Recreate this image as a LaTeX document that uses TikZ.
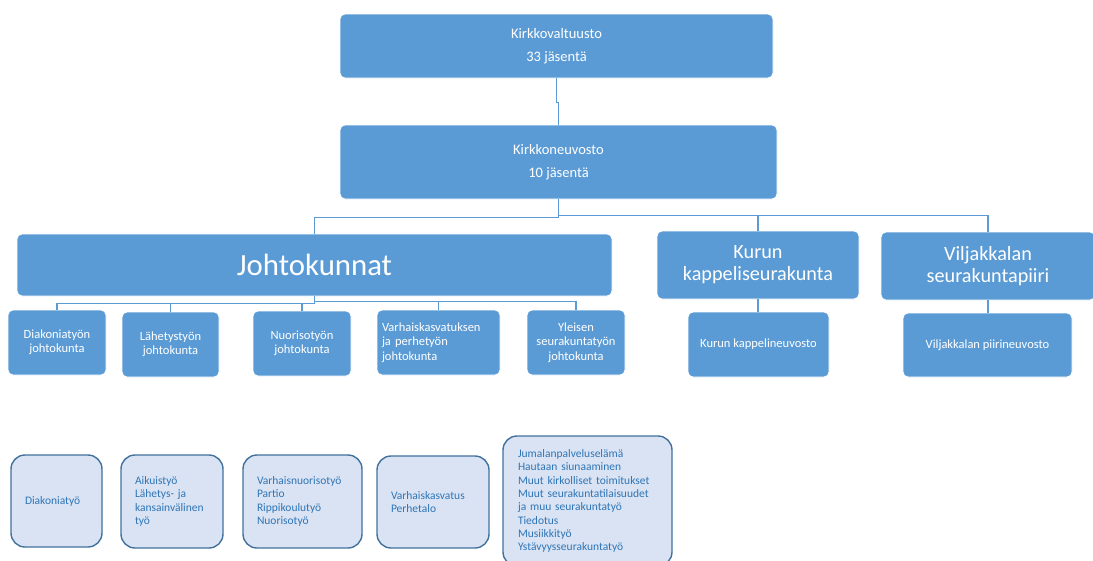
\documentclass[tikz,border=0pt]{standalone}
\usepackage{fontspec}
\setmainfont{Carlito}
\definecolor{mblue}{HTML}{5B9BD5}
\definecolor{lfill}{HTML}{DAE3F3}
\definecolor{lborder}{HTML}{41719C}
\definecolor{ltext}{HTML}{2E75B6}
\definecolor{connc}{HTML}{5B9BD5}
\begin{document}
\begin{tikzpicture}[x=1pt,y=-1pt,
  bluebox/.style={fill=mblue, draw=white, line width=0.8pt, rounded corners=5pt, text=white, inner sep=0pt, align=center},
  smallblue/.style={bluebox, font=\fontsize{12.5}{14.3}\selectfont},
  lightbox/.style={fill=lfill, draw=lborder, line width=1.4pt, rounded corners=14pt, text=ltext, inner xsep=14pt, inner ysep=0pt, align=left, font=\fontsize{11.5}{13.3}\selectfont},
  connector/.style={draw=connc, line width=1.5pt}]
\useasboundingbox (0,0) rectangle (1093,560);

% top level
\node[bluebox, minimum width=433, minimum height=64, font=\fontsize{14.5}{23}\selectfont] (K1) at (556.5,46) {Kirkkovaltuusto\\33 jäsentä};
\node[bluebox, minimum width=437, minimum height=74, font=\fontsize{14.5}{23}\selectfont] (K2) at (558.5,162) {Kirkkoneuvosto\\10 jäsentä};

% second level
\node[bluebox, minimum width=595, minimum height=62, font=\fontsize{30.8}{34}\selectfont] (J) at (314.5,265) {Johtokunnat};
\node[bluebox, minimum width=202, minimum height=68, font=\fontsize{20.2}{22}\selectfont] (KU) at (758,265) {Kurun\\kappeliseurakunta};
\node[bluebox, minimum width=214, minimum height=68, font=\fontsize{20.2}{22}\selectfont] (VI) at (988,266) {Viljakkalan\\seurakuntapiiri};

% councils
\node[smallblue, minimum width=141, minimum height=65] (KN) at (758.5,344.5) {Kurun kappelineuvosto};
\node[smallblue, minimum width=169, minimum height=64] (VN) at (987.5,345) {Viljakkalan piirineuvosto};

% boards
\node[smallblue, minimum width=98, minimum height=65] (c1) at (57,342.5) {Diakoniatyön\\johtokunta};
\node[smallblue, minimum width=97, minimum height=65] (c2) at (170.5,344.5) {Lähetystyön\\johtokunta};
\node[smallblue, minimum width=98, minimum height=65] (c3) at (302,343.5) {Nuorisotyön\\johtokunta};
\node[smallblue, minimum width=123, minimum height=65, align=left, text width=113, inner xsep=5] (c4) at (438.5,342.5) {Varhaiskasvatuksen\\ja perhetyön\\johtokunta};
\node[smallblue, minimum width=98, minimum height=65] (c5) at (576,342.5) {Yleisen\\seurakuntatyön\\johtokunta};

% work areas
\node[lightbox, minimum width=89, minimum height=92, text width=63] (A) at (56.5,501) {Diakoniatyö};
\node[lightbox, minimum width=102, minimum height=93, text width=74] (B) at (172,501.5) {Aikuistyö\\Lähetys- ja\\kansainvälinen\\työ};
\node[lightbox, minimum width=119, minimum height=93, text width=91] (C) at (302.5,501.5) {Varhaisnuorisotyö\\Partio\\Rippikoulutyö\\Nuorisotyö};
\node[lightbox, minimum width=112, minimum height=92, text width=84] (D) at (433,502) {Varhaiskasvatus\\Perhetalo};
\node[lightbox, minimum width=169, minimum height=130, text width=139, inner xsep=15pt] (E) at (587.5,501) {Jumalanpalveluselämä\\Hautaan siunaaminen\\Muut kirkolliset toimitukset\\Muut seurakuntatilaisuudet\\ja muu seurakuntatyö\\Tiedotus\\Musiikkityö\\Ystävyysseurakuntatyö};

% connectors
\draw[connector] (K1.south) -- ++(0,24) -| (K2.north);
\draw[connector] (K2.south) -- ++(0,18) -| (J.north);
\draw[connector] (K2.south) -- ++(0,16) -| (KU.north);
\draw[connector] (K2.south) -- ++(0,16) -| (VI.north);
\draw[connector] (J.south) -- ++(0,7) -| (c1.north);
\draw[connector] (J.south) -- ++(0,7) -| (c2.north);
\draw[connector] (J.south) -- ++(0,7) -| (c3.north);
\draw[connector] (J.south) -- ++(0,5) -| (c4.north);
\draw[connector] (J.south) -- ++(0,5) -| (c5.north);
\draw[connector] (KU.south) -- (KU.south |- KN.north);
\draw[connector] (VI.south) -- (VI.south |- VN.north);
\end{tikzpicture}
\end{document}
